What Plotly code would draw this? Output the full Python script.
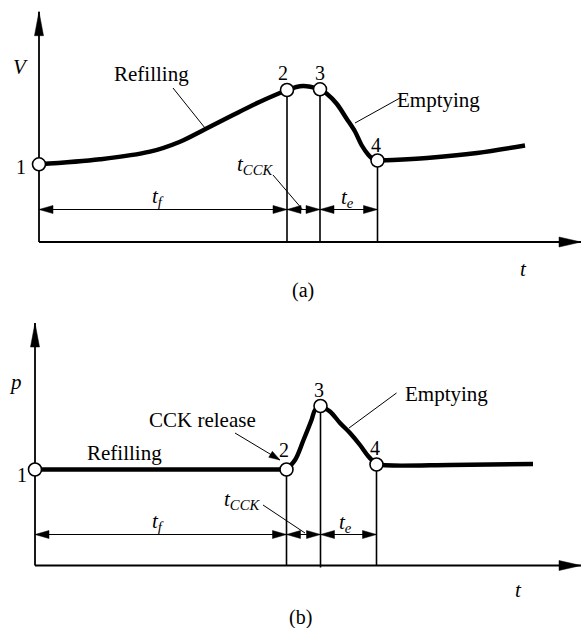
import math
import plotly.graph_objects as go

# ---------------- data (schematic units) ----------------
# Panel (a): gallbladder volume V vs time t
a_refill_t = [0.0, 1.22, 2.22, 2.82, 3.32, 3.88, 4.42, 4.96]
a_refill_v = [1.554, 1.654, 1.806, 2.006, 2.254, 2.54, 2.806, 3.04]
a_cck_t = [4.96, 5.28, 5.62]
a_cck_v = [3.04, 3.12, 3.054]
a_empty_t = [5.62, 5.75, 5.95, 6.15, 6.32, 6.45, 6.59, 6.68, 6.77]
a_empty_v = [3.054, 2.97, 2.77, 2.47, 2.21, 1.94, 1.74, 1.66, 1.63]
a_after_t = [6.77, 7.08, 7.76, 8.76, 9.72]
a_after_v = [1.63, 1.64, 1.68, 1.78, 1.93]
a_state_t = [0.0, 4.96, 5.62, 6.77]
a_state_v = [1.554, 3.04, 3.054, 1.63]

# Panel (b): gallbladder pressure p vs time t
b_refill_t = [0.0, 5.03]
b_refill_p = [1.92, 1.92]
b_cck_t = [5.03, 5.2, 5.37, 5.53, 5.6, 5.71]
b_cck_p = [1.92, 2.11, 2.51, 2.91, 3.11, 3.19]
b_empty_t = [5.71, 5.9, 6.1, 6.3, 6.5, 6.67, 6.83]
b_empty_p = [3.19, 3.08, 2.85, 2.65, 2.41, 2.18, 2.02]
b_after_t = [6.83, 7.16, 8.3, 9.96]
b_after_p = [2.02, 2.0, 2.01, 2.03]
b_state_t = [0.0, 5.03, 5.71, 6.83]
b_state_p = [1.92, 1.92, 3.19, 2.02]

state_labels = ["1", "2", "3", "4"]

# ---------------- figure setup ----------------
W, H = 581, 628
S = 50.0  # pixels per schematic unit on every axis
FONT = "Liberation Serif, Times New Roman, Times, serif"

fig = go.Figure()

def line(x, y, ax, width=1.2, shape="linear"):
    xa, ya = ax
    fig.add_trace(go.Scatter(x=x, y=y, mode="lines", xaxis=xa, yaxis=ya,
                             line=dict(color="black", width=width, shape=shape,
                                       smoothing=1.0),
                             hoverinfo="skip"))

def head(tip, frm, ax, length=14, width=8):
    xa, ya = ax
    tx, ty = tip
    dx, dy = tx - frm[0], ty - frm[1]
    n = math.hypot(dx, dy)
    ux, uy = dx / n, dy / n
    L, Wd = length / S, width / 2 / S
    bx, by = tx - ux * L, ty - uy * L
    nx, ny = -uy, ux
    fig.add_trace(go.Scatter(x=[tx, bx + nx * Wd, bx - nx * Wd, tx],
                             y=[ty, by + ny * Wd, by - ny * Wd, ty],
                             mode="lines", fill="toself", fillcolor="black",
                             xaxis=xa, yaxis=ya,
                             line=dict(color="black", width=0.5),
                             hoverinfo="skip"))

def panel(ax, xtip, ytip, dim_y, segs, st_t, st_v, bottoms):
    # axes with arrows
    line([0, xtip], [0, 0], ax, width=1.8)
    line([0, 0], [0, ytip], ax, width=1.8)
    head((xtip, 0), (0, 0), ax, length=22, width=10)
    head((0, ytip), (0, 0), ax, length=24, width=9)
    # vertical state lines
    for t, v, b in zip(st_t[1:], st_v[1:], bottoms):
        line([t, t], [b, v], ax, width=1.6)
    # dimension line with arrows
    line([0, st_t[3]], [dim_y, dim_y], ax, width=1.0)
    for i in range(3):
        l, r = st_t[i], st_t[i + 1]
        head((l, dim_y), (r, dim_y), ax)
        head((r, dim_y), (l, dim_y), ax)
    # curve segments
    for tx, vy in segs:
        line(tx, vy, ax, width=4.4, shape="spline")
    # state markers
    fig.add_trace(go.Scatter(x=st_t, y=st_v, mode="markers", xaxis=ax[0], yaxis=ax[1],
                             cliponaxis=False,
                             marker=dict(size=13, color="white",
                                         line=dict(color="black", width=1.6)),
                             hoverinfo="skip"))

panel(("x", "y"), 10.84, 4.606, 0.65,
      [(a_refill_t, a_refill_v), (a_cck_t, a_cck_v),
       (a_empty_t, a_empty_v), (a_after_t, a_after_v)],
      a_state_t, a_state_v, [0, 0, 0])
panel(("x2", "y2"), 10.92, 4.85, 0.62,
      [(b_refill_t, b_refill_p), (b_cck_t, b_cck_p),
       (b_empty_t, b_empty_p), (b_after_t, b_after_p)],
      b_state_t, b_state_p, [0, -0.04, 0])

# leader lines
line([2.68, 3.32], [3.08, 2.28], ("x", "y"), width=1.0)      # Refilling (a)
line([7.22, 6.32], [2.88, 2.38], ("x", "y"), width=1.0)      # Emptying (a)
line([4.68, 5.28], [1.34, 0.64], ("x", "y"), width=1.0)      # tCCK (a)
line([7.23, 6.28], [3.45, 2.75], ("x2", "y2"), width=1.0)    # Emptying (b)
line([4.56, 5.40], [1.21, 0.65], ("x2", "y2"), width=1.0)    # tCCK (b)
line([4.0, 4.9], [2.65, 2.11], ("x2", "y2"), width=1.0)      # CCK release
head((4.9, 2.11), (4.0, 2.65), ("x2", "y2"), length=11, width=7)

# ---------------- text ----------------
def txt(s, x, y, ax, size=21, xanchor="center"):
    fig.add_annotation(text=s, x=x, y=y, xref=ax[0], yref=ax[1], showarrow=False,
                       xanchor=xanchor, yanchor="middle",
                       font=dict(family=FONT, size=size, color="black"))

A, B = ("x", "y"), ("x2", "y2")
txt("<i>V</i>", -0.38, 3.5, A)
txt("Refilling", 2.25, 3.37, A)
txt("Emptying", 7.12, 2.84, A, xanchor="left")
txt("<i>t<sub>f</sub></i>", 2.38, 0.9, A)
txt("<i>t<sub>CCK</sub></i>", 4.32, 1.54, A)
txt("<i>t<sub>e</sub></i>", 6.16, 0.88, A)
txt("<i>t</i>", 9.68, -0.54, A)
txt("(a)", 5.28, -0.96, A, size=20)
for s, x, y in zip(state_labels, [-0.36, 4.88, 5.62, 6.74], [1.506, 3.38, 3.386, 1.94]):
    txt(s, x, y, A, size=20)

txt("<i>p</i>", -0.4, 3.67, B)
txt("Refilling", 1.78, 2.26, B)
txt("CCK release", 3.34, 2.91, B)
txt("Emptying", 7.35, 3.44, B, xanchor="left")
txt("<i>t<sub>f</sub></i>", 2.46, 0.88, B)
txt("<i>t<sub>CCK</sub></i>", 4.14, 1.31, B)
txt("<i>t<sub>e</sub></i>", 6.2, 0.85, B)
txt("<i>t</i>", 9.66, -0.49, B)
txt("(b)", 5.3, -1.03, B, size=20)
for s, x, y in zip(state_labels, [-0.27, 4.97, 5.67, 6.8], [1.81, 2.31, 3.51, 2.35]):
    txt(s, x, y, B, size=20)

# ---------------- layout ----------------
hid = dict(visible=False, fixedrange=True)
fig.update_layout(
    width=W, height=H, margin=dict(l=0, r=0, t=0, b=0),
    paper_bgcolor="white", plot_bgcolor="white", showlegend=False,
    font=dict(family=FONT),
    xaxis=dict(domain=[0, 1], range=[-39 / S, 542 / S], **hid),
    yaxis=dict(domain=[1 - 300 / H, 1], range=[-58 / S, 242 / S], **hid),
    xaxis2=dict(domain=[0, 1], range=[-35 / S, 546 / S], **hid),
    yaxis2=dict(domain=[0, 1 - 310 / H], range=[-62.5 / S, 255.5 / S], **hid),
)

fig.write_html("out.html")
